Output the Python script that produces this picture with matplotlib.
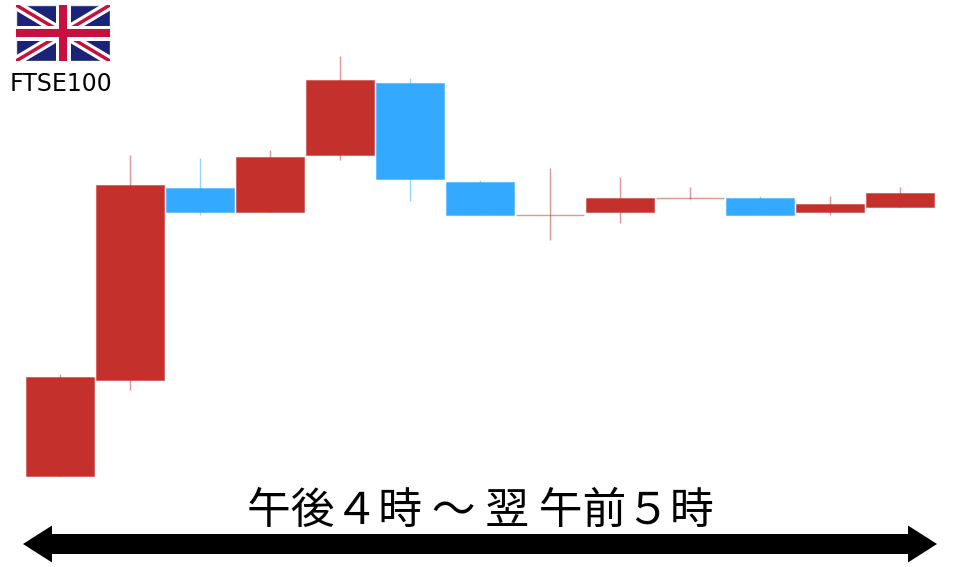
# -*- coding: utf-8 -*-
import matplotlib
matplotlib.use('Agg')
import matplotlib.pyplot as plt
from matplotlib.patches import Polygon, Rectangle

plt.rcParams['font.family'] = ['Noto Sans CJK JP', 'DejaVu Sans']

# index points (bottom of first candle = 0)
opens = [0, 96, 288, 264, 321, 393, 294, 260, 264, 277, 278, 264, 269]
closes = [99, 291, 264, 319, 396, 297, 261, 261, 278, 278, 261, 272, 283]
highs = [102, 321, 318, 326, 420, 398, 296, 308, 299, 289, 280, 280, 289]
lows = [0, 86, 261, 264, 316, 275, 261, 236, 253, 277, 261, 261, 269]

RED = '#c4302b'
BLUE = '#33a9ff'

fig = plt.figure(figsize=(9.6, 5.67), dpi=100)
ax = fig.add_axes([0, 0, 1, 1])
ax.set_xlim(-60 / 70, 900 / 70)
ax.set_ylim(-91, 476)
ax.axis('off')

for i in range(len(opens)):
    up = closes[i] >= opens[i]
    col = RED if up else BLUE
    ax.plot([i, i], [lows[i], highs[i]], color=col, lw=1, alpha=0.5, zorder=1,
            solid_capstyle='butt')
    body = abs(closes[i] - opens[i])
    if body <= 1:
        # doji, only a pale line
        ax.plot([i - 0.48, i + 0.48], [closes[i], closes[i]], color=col, lw=1,
                alpha=0.5, zorder=1, solid_capstyle='butt')
    else:
        edge = matplotlib.colors.to_rgba(col, 0.45)
        ax.bar(i, body, bottom=min(opens[i], closes[i]), width=0.985, color=col,
               edgecolor=edge, lw=0.8, zorder=2)

# overlay in pixels for the arrow and the texts
over = fig.add_axes([0, 0, 1, 1])
over.set_xlim(0, 960)
over.set_ylim(567, 0)
over.axis('off')
over.patch.set_alpha(0)

arrow = [(23, 544), (52, 525.5), (52, 534), (908, 534), (908, 525.5), (937, 544),
         (908, 562.5), (908, 554), (52, 554), (52, 562.5)]
over.add_patch(Polygon(arrow, closed=True, color='black', lw=0))

over.text(480, 511, '午後４時 ～ 翌 午前５時', fontsize=31.5, ha='center', va='center',
          color='black')
over.text(61, 84, 'FTSE100', fontsize=17, ha='center', va='center',
          color='black', family=['DejaVu Sans'])

# flag
flag = fig.add_axes([16 / 960, 1 - 61 / 567, 94 / 960, 56 / 567])
flag.set_xlim(0, 60)
flag.set_ylim(0, 35)
flag.axis('off')
bg = Rectangle((0, 0), 60, 35, facecolor='#1a2378', edgecolor='#e6e6e6', lw=1)
flag.add_patch(bg)
for a, b in [((0, 0), (60, 35)), ((0, 35), (60, 0))]:
    flag.plot([a[0], b[0]], [a[1], b[1]], color='white', lw=7, clip_path=bg,
              solid_capstyle='butt')
    flag.plot([a[0], b[0]], [a[1], b[1]], color='#c8103e', lw=2.5, clip_path=bg,
              solid_capstyle='butt')
flag.plot([30, 30], [0, 35], color='white', lw=10.8, solid_capstyle='butt')
flag.plot([0, 60], [17.5, 17.5], color='white', lw=10.8, solid_capstyle='butt')
flag.plot([30, 30], [0, 35], color='#c8103e', lw=5.8, solid_capstyle='butt')
flag.plot([0, 60], [17.5, 17.5], color='#c8103e', lw=5.8, solid_capstyle='butt')

fig.savefig('out.png', dpi=100)
